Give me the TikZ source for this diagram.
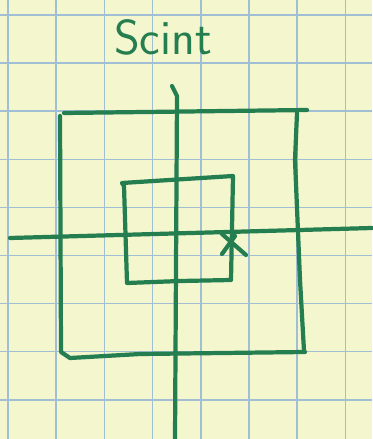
\documentclass[tikz,border=0pt]{standalone}
\usepackage{tikz}
\usetikzlibrary{positioning,calc}
\definecolor{paper}{RGB}{244,247,206}
\definecolor{gridblue}{RGB}{160,190,212}
\definecolor{inkgreen}{RGB}{36,126,80}

\begin{document}
\begin{tikzpicture}[
    x=0.02cm, y=-0.02cm,
    pen/.style={draw=inkgreen, line width=2.4pt, line cap=round, line join=round},
    paperline/.style={draw=gridblue, line width=0.9pt},
    title/.style={text=inkgreen, font=\fontsize{28}{30}\selectfont\sffamily}
  ]
    %--- Graph paper ---
    \fill[paper] (0,0) rectangle (372,439);
    \useasboundingbox (0,0) rectangle (372,439);
    \foreach \gx in {0,...,7}
      \draw[paperline] ({8+48.2*\gx},0) -- ++(0,439);
    \foreach \gy in {0,...,8}
      \draw[paperline] (0,{15+48.1*\gy}) -- ++(372,0);

    %--- Title ---
    \node[title] (scint) at (163,37) {Scint};

    %--- Large square ---
    \draw[pen] (64,113) -- (307,110);
    \draw[pen] (60,116) -- (61,352) -- (70,358) -- (140,354) -- (305,352);
    \draw[pen] (297,113) -- (295,160) -- (300,280) -- (304,351);

    %--- Axes ---
    \draw[pen] (172,86) -- (177,96) -- (175,439);
    \draw[pen] (10,238) -- (372,228);

    %--- Small square ---
    \draw[pen] (124,186) -- (122,183) -- (233,176) -- (231,280)
               -- (180,281) -- (127,283) -- cycle;

    %--- Cross mark ---
    \draw[pen] (222,234) -- (246,255);
    \draw[pen] (235,236) -- (222,254);
  \end{tikzpicture}
\end{document}
